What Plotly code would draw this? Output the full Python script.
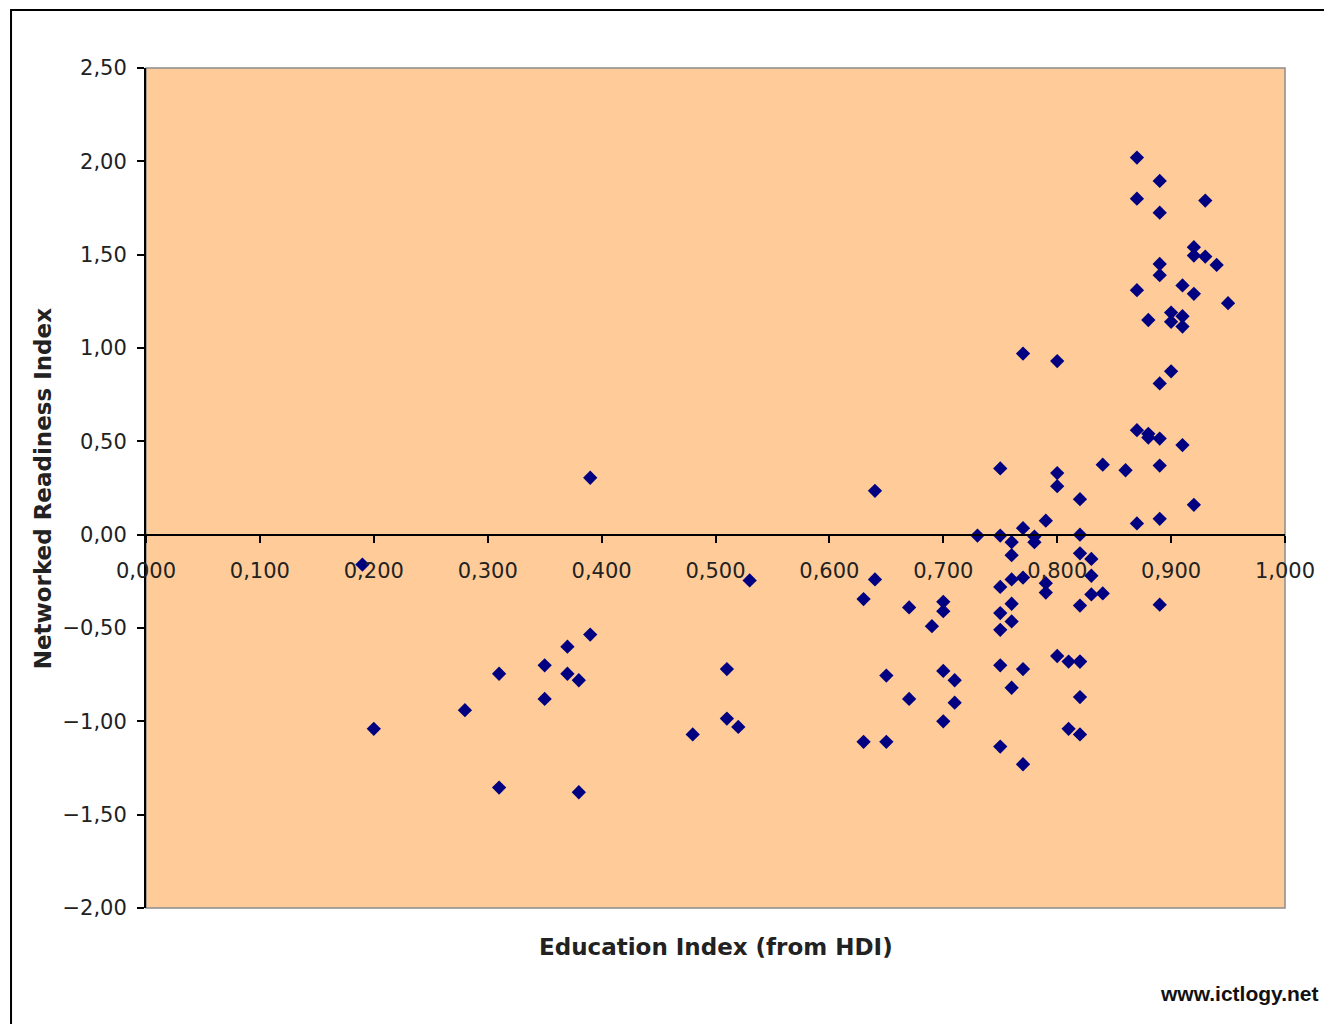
import plotly.graph_objects as go

# Education Index (from HDI) vs Networked Readiness Index, one point per country
education_index = [
    0.19, 0.20, 0.28, 0.31, 0.31, 0.35, 0.35, 0.37, 0.37, 0.38, 0.38, 0.39, 0.39,
    0.48, 0.51, 0.51, 0.52, 0.53,
    0.63, 0.63, 0.64, 0.64, 0.65, 0.65, 0.67, 0.67, 0.69, 0.70, 0.70, 0.70, 0.70,
    0.71, 0.71, 0.73,
    0.75, 0.75, 0.75, 0.75, 0.75, 0.75, 0.75,
    0.76, 0.76, 0.76, 0.76, 0.76, 0.76,
    0.77, 0.77, 0.77, 0.77, 0.77, 0.78, 0.78,
    0.79, 0.79, 0.79,
    0.80, 0.80, 0.80, 0.80, 0.81, 0.81,
    0.82, 0.82, 0.82, 0.82, 0.82, 0.82, 0.82, 0.82,
    0.83, 0.83, 0.83, 0.84, 0.84, 0.86,
    0.87, 0.87, 0.87, 0.87, 0.87,
    0.88, 0.88, 0.88,
    0.89, 0.89, 0.89, 0.89, 0.89, 0.89, 0.89, 0.89, 0.89,
    0.90, 0.90, 0.90,
    0.91, 0.91, 0.91, 0.91,
    0.92, 0.92, 0.92, 0.92,
    0.93, 0.93, 0.94, 0.95,
]
networked_readiness = [
    -0.16, -1.04, -0.94, -0.745, -1.355, -0.70, -0.88, -0.60, -0.745, -0.78, -1.38, -0.535, 0.305,
    -1.07, -0.72, -0.985, -1.03, -0.245,
    -0.345, -1.11, 0.235, -0.24, -0.755, -1.11, -0.39, -0.88, -0.49, -0.36, -0.41, -0.73, -1.00,
    -0.78, -0.90, -0.005,
    0.355, -0.28, -0.42, -0.51, -0.70, -1.135, -0.005,
    -0.04, -0.11, -0.24, -0.37, -0.465, -0.82,
    0.97, 0.035, -0.23, -0.72, -1.23, -0.01, -0.04,
    0.075, -0.26, -0.31,
    0.93, 0.33, 0.26, -0.65, -0.68, -1.04,
    0.19, 0.00, -0.10, -0.38, -0.68, -0.87, -1.07, -0.68,
    -0.13, -0.22, -0.32, 0.375, -0.315, 0.345,
    2.02, 1.80, 1.31, 0.56, 0.06,
    1.15, 0.54, 0.52,
    1.895, 1.725, 1.45, 1.39, 0.81, 0.515, 0.37, 0.085, -0.375,
    1.19, 1.14, 0.875,
    1.335, 1.17, 1.115, 0.48,
    1.54, 1.495, 1.29, 0.16,
    1.79, 1.49, 1.445, 1.24,
]

y_ticks = [-2.0, -1.5, -1.0, -0.5, 0.0, 0.5, 1.0, 1.5, 2.0, 2.5]
x_ticks = [0.0, 0.1, 0.2, 0.3, 0.4, 0.5, 0.6, 0.7, 0.8, 0.9, 1.0]

font_main = "DejaVu Sans"

fig = go.Figure()
fig.add_trace(go.Scatter(
    x=education_index,
    y=networked_readiness,
    mode="markers",
    marker=dict(symbol="diamond", size=11, color="#000080",
                line=dict(width=0)),
    hoverinfo="x+y",
))

# paper position of the y=0 line inside the plot area
zero_pos = (0 - y_ticks[0]) / (y_ticks[-1] - y_ticks[0])

# page body has an 8px margin, so the figure is a bit smaller than the window
fig.update_layout(
    width=1324,
    height=1016,
    margin=dict(l=138, r=47, t=60, b=116),
    paper_bgcolor="white",
    plot_bgcolor="#FFCC99",
    separators=",.",
    showlegend=False,
    font=dict(family=font_main, size=21, color="#222222"),
    xaxis=dict(
        range=[0, 1],
        tickvals=x_ticks,
        tickformat=".3f",
        showgrid=False,
        zeroline=False,
        showline=True,
        linecolor="black",
        linewidth=2,
        ticks="outside",
        ticklen=7,
        tickwidth=2,
        tickcolor="black",
        anchor="free",
        position=zero_pos,
        ticklabelstandoff=10,
    ),
    yaxis=dict(
        range=[y_ticks[0], y_ticks[-1]],
        tickvals=y_ticks,
        tickformat=".2f",
        showgrid=False,
        zeroline=False,
        showline=True,
        linecolor="black",
        linewidth=2,
        ticks="outside",
        ticklen=7,
        tickwidth=2,
        tickcolor="black",
        ticklabelstandoff=6,
    ),
    shapes=[
        # grey frame of the plot area
        dict(type="rect", xref="paper", yref="paper", x0=0, x1=1, y0=0, y1=1,
             line=dict(color="#8c8c8c", width=1.5), layer="below"),
        # outer chart border
        dict(type="rect", xref="paper", yref="paper",
             x0=-0.1185, x1=1.06, y0=-0.15, y1=1.069,
             line=dict(color="black", width=2)),
    ],
    annotations=[
        dict(text="<b>Networked Readiness Index</b>", xref="paper", yref="paper",
             x=-0.1033, y=0.5, textangle=-90, showarrow=False,
             font=dict(family=font_main, size=23, color="#222222")),
        dict(text="<b>Education Index (from HDI)</b>", xref="paper", yref="paper",
             x=0.5, y=-0.0637, showarrow=False,
             font=dict(family=font_main, size=23, color="#222222")),
        dict(text="<b>www.ictlogy.net</b>", xref="paper", yref="paper",
             x=1.0316, y=-0.118, xanchor="right", showarrow=False,
             font=dict(family="Liberation Sans", size=21, color="#111111")),
    ],
)

fig.write_html("out.html")
